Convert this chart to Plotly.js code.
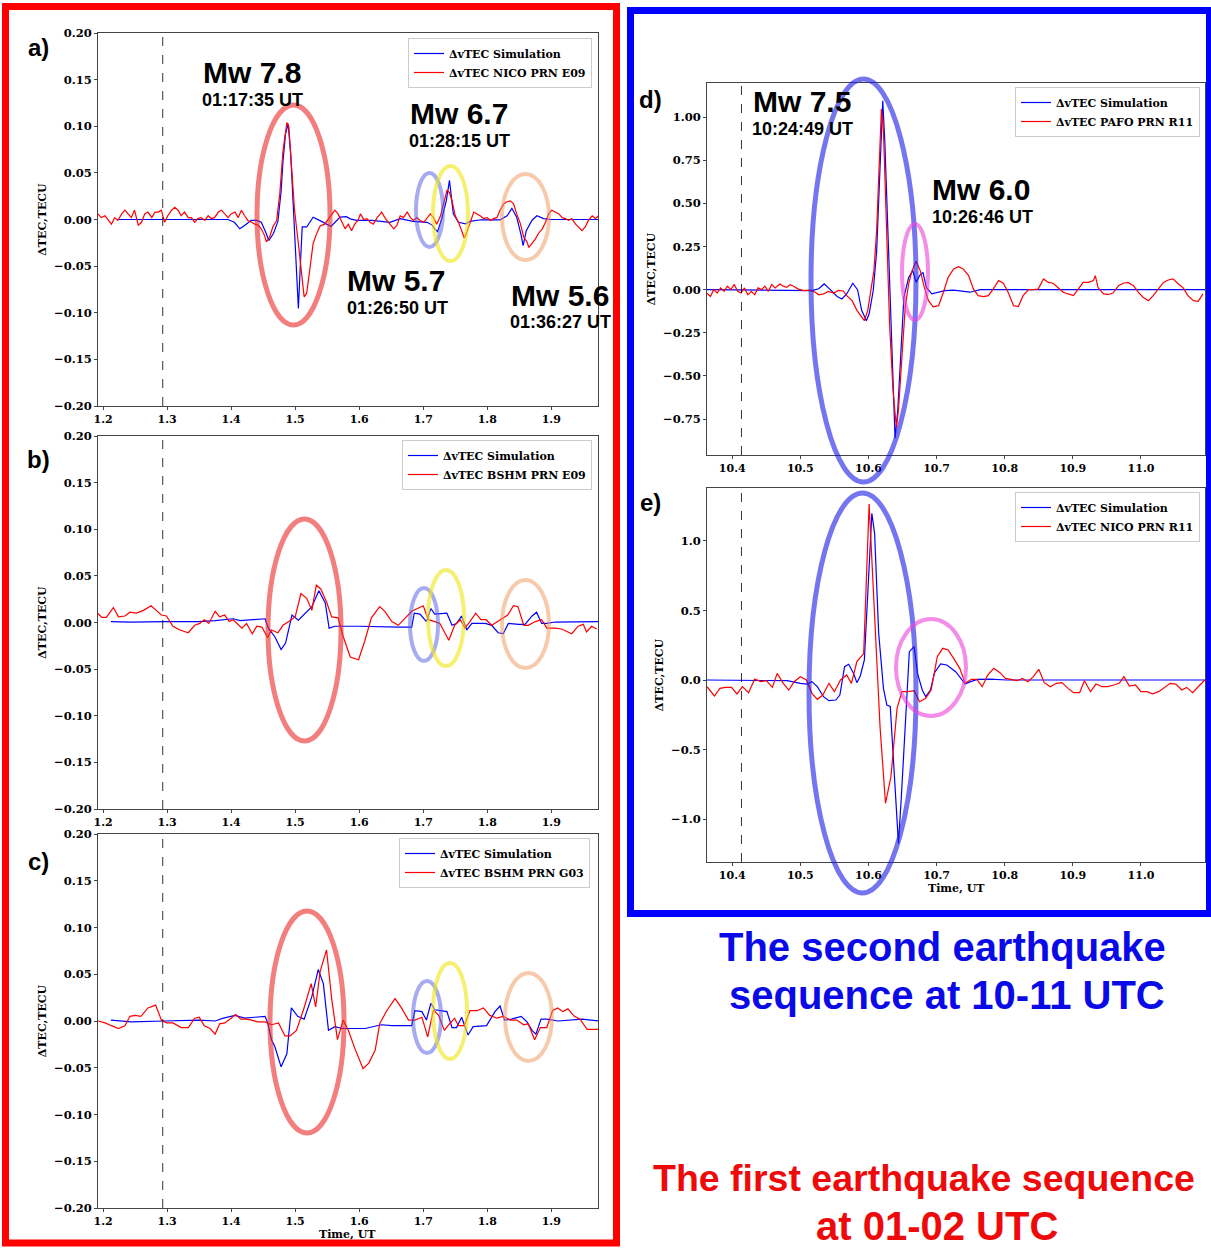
<!DOCTYPE html>
<html>
<head>
<meta charset="utf-8">
<script src="https://cdn.plot.ly/plotly-3.0.1.min.js"></script>
<style>html,body{margin:0;padding:0;overflow:hidden;background:#fff}#chart{width:1211px;height:1249px}</style>
</head>
<body>
<div id="chart"></div>
<script>
// ---------------- DATA ----------------
const eventTimeA = 1.2931;   // 01:17:35 UT
const eventTimeD = 10.4136;  // 10:24:49 UT

// Panel a) NICO PRN E09
const aSimT = [1.221,1.300,1.395,1.405,1.4135,1.422,1.431,1.440,1.447,1.453,1.459,1.466,1.473,1.478,1.481,1.485,1.487,1.489,1.493,1.497,1.501,1.505,1.508,1.511,1.518,1.528,1.541,1.556,1.570,1.580,1.586,1.596,1.620,1.648,1.664,1.684,1.706,1.714,1.718,1.7224,1.729,1.736,1.741,1.747,1.755,1.766,1.773,1.790,1.820,1.831,1.8385,1.846,1.853,1.856,1.861,1.870,1.8776,1.888,1.900,1.973];
const aSimV = [0,0,0,-0.003,-0.010,-0.006,-0.001,-0.001,-0.003,-0.012,-0.0225,-0.015,-0.002,0.03,0.063,0.092,0.097,0.1027,0.07,0.0097,-0.05,-0.0955,-0.05,-0.008,-0.008,0.0025,-0.002,-0.0075,0.0025,0.003,0.0007,-0.001,-0.001,-0.003,0.001,-0.002,-0.003,-0.006,-0.010,-0.013,0.001,0.020,0.042,0.006,-0.003,-0.0046,-0.002,-0.0003,-0.0003,0.004,0.012,0.0025,-0.017,-0.028,-0.012,-0.0008,0.004,0.001,0,0];
const aObsT = [1.192,1.197,1.203,1.208,1.213,1.218,1.223,1.229,1.234,1.239,1.244,1.249,1.255,1.260,1.265,1.270,1.276,1.281,1.286,1.291,1.296,1.301,1.307,1.312,1.317,1.322,1.327,1.333,1.338,1.343,1.348,1.353,1.359,1.364,1.369,1.374,1.380,1.385,1.390,1.395,1.400,1.406,1.411,1.416,1.421,1.426,1.432,1.437,1.442,1.447,1.452,1.455,1.460,1.465,1.471,1.476,1.481,1.487,1.490,1.494,1.499,1.505,1.510,1.514,1.518,1.523,1.528,1.533,1.539,1.546,1.554,1.562,1.567,1.572,1.578,1.583,1.588,1.593,1.598,1.602,1.607,1.612,1.617,1.622,1.628,1.633,1.635,1.641,1.648,1.654,1.659,1.664,1.669,1.675,1.680,1.685,1.690,1.695,1.701,1.706,1.711,1.716,1.721,1.727,1.732,1.737,1.741,1.745,1.750,1.755,1.760,1.764,1.768,1.774,1.779,1.784,1.789,1.794,1.800,1.805,1.810,1.815,1.820,1.826,1.831,1.836,1.841,1.846,1.852,1.857,1.862,1.865,1.870,1.875,1.880,1.886,1.891,1.896,1.901,1.906,1.912,1.917,1.922,1.927,1.932,1.938,1.943,1.948,1.953,1.958,1.964,1.969,1.974];
const aObsV = [0.006,0.002,0.004,-0.001,-0.005,0.002,-0.001,0.006,0.010,0.006,0.002,0.010,-0.006,-0.003,0.006,0.008,0.002,0.008,0.008,0.010,-0.003,0.004,0.010,0.013,0.010,0.004,0.008,0.002,0.002,-0.003,0.001,0.002,-0.001,0.004,0.001,0.002,0.008,0.010,0.006,0.002,0.006,0.008,0.002,0.010,0.004,-0.001,-0.003,-0.005,-0.006,-0.010,-0.017,-0.024,-0.019,-0.008,-0.001,0.028,0.074,0.104,0.100,0.063,0.010,-0.026,-0.062,-0.083,-0.079,-0.051,-0.026,-0.016,-0.007,-0.005,0.002,0.010,0.006,-0.001,-0.010,-0.005,-0.012,-0.005,-0.001,0.006,0.000,0.001,-0.003,-0.005,0.002,0.006,0.008,0.001,-0.005,-0.010,-0.006,0.004,0.002,0.008,0.002,-0.001,0.002,-0.001,-0.003,0.001,0.006,0.002,-0.005,0.004,0.017,0.031,0.029,0.020,0.004,-0.003,-0.012,-0.020,-0.014,-0.003,0.008,0.006,0.004,0.001,0.002,-0.001,0.001,0.002,0.010,0.017,0.019,0.020,0.017,0.006,-0.005,-0.019,-0.024,-0.030,-0.026,-0.021,-0.015,-0.010,-0.003,0.006,0.010,0.008,0.006,0.002,0.001,-0.001,0.001,-0.005,-0.008,-0.012,-0.008,-0.001,0.004,0.001,0.004];

// Panel b) BSHM PRN E09
const bSimT = [1.212,1.244,1.296,1.349,1.375,1.390,1.403,1.414,1.437,1.453,1.458,1.468,1.478,1.485,1.495,1.505,1.526,1.537,1.547,1.553,1.562,1.600,1.661,1.682,1.686,1.695,1.705,1.712,1.718,1.729,1.737,1.745,1.752,1.760,1.768,1.776,1.797,1.807,1.817,1.825,1.833,1.849,1.859,1.870,1.877,1.885,1.893,1.906,1.974];
const bSimV = [0.001,0.0005,0.001,0.001,0.002,0.003,0.004,0.002,0.003,0.004,-0.006,-0.015,-0.029,-0.022,0.008,0.0025,0.017,0.034,0.021,-0.006,-0.004,-0.004,-0.005,-0.005,0.010,0.009,0.001,0.015,0.009,0.010,0.010,-0.003,-0.001,0.007,-0.008,-0.001,-0.001,-0.003,-0.011,-0.012,-0.001,-0.002,-0.002,0.007,0.011,-0.001,-0.001,0.0005,0.001];
const bObsT = [1.192,1.198,1.205,1.216,1.224,1.234,1.242,1.252,1.263,1.275,1.283,1.291,1.299,1.309,1.320,1.333,1.343,1.351,1.358,1.365,1.375,1.382,1.390,1.397,1.403,1.410,1.417,1.424,1.433,1.440,1.448,1.457,1.463,1.473,1.481,1.490,1.500,1.509,1.518,1.526,1.533,1.540,1.549,1.557,1.567,1.575,1.586,1.599,1.609,1.619,1.632,1.640,1.651,1.661,1.672,1.682,1.700,1.708,1.718,1.726,1.740,1.749,1.758,1.765,1.773,1.782,1.790,1.798,1.807,1.816,1.827,1.832,1.841,1.848,1.857,1.864,1.875,1.885,1.893,1.906,1.916,1.932,1.942,1.950,1.955,1.963,1.971];
const bObsV = [0.0096,0.0055,0.0055,0.016,0.006,0.007,0.011,0.010,0.013,0.018,0.013,0.008,0.007,-0.004,-0.008,-0.011,-0.003,-0.001,0.003,-0.001,0.012,0.006,0.008,0.001,0.003,-0.001,-0.006,-0.001,-0.012,-0.004,-0.005,-0.016,-0.008,-0.011,-0.003,0.001,0.006,0.031,0.026,0.013,0.040,0.036,0.022,0.006,0.005,-0.015,-0.037,-0.040,-0.019,0.005,0.017,0.012,0.001,-0.003,0.005,0.012,0.018,0.003,0.001,-0.001,-0.019,-0.003,0.003,-0.006,0.001,0.010,0.003,0.003,-0.003,0.001,0.005,0.008,0.018,0.017,-0.003,-0.003,0.001,0.003,-0.006,-0.006,-0.007,-0.012,-0.004,-0.002,-0.010,-0.004,-0.007];

// Panel c) BSHM PRN G03
const cSimT = [1.212,1.244,1.296,1.349,1.375,1.388,1.406,1.421,1.437,1.453,1.457,1.463,1.468,1.478,1.487,1.494,1.504,1.514,1.526,1.536,1.544,1.552,1.562,1.573,1.609,1.635,1.651,1.682,1.687,1.698,1.705,1.712,1.718,1.729,1.737,1.745,1.752,1.760,1.770,1.778,1.799,1.812,1.820,1.827,1.838,1.853,1.862,1.870,1.876,1.884,1.893,1.911,1.948,1.974];
const cSimV = [0.001,-0.001,0.0,0.001,0.0,0.003,0.006,0.003,0.004,0.005,-0.002,-0.020,-0.027,-0.049,-0.035,0.014,0.005,0.002,0.026,0.055,0.040,-0.010,-0.006,-0.008,-0.008,-0.004,-0.005,-0.005,0.011,0.010,0.001,0.019,0.012,0.011,0.010,-0.007,-0.007,0.004,-0.015,-0.006,-0.005,0.010,0.016,0.001,0.002,0.005,-0.001,-0.010,-0.014,0.002,0.002,0.0,0.002,0.0];
const cObsT = [1.192,1.203,1.213,1.224,1.234,1.242,1.250,1.259,1.270,1.282,1.291,1.299,1.309,1.322,1.333,1.343,1.350,1.358,1.367,1.375,1.382,1.390,1.400,1.407,1.415,1.424,1.432,1.441,1.453,1.463,1.474,1.484,1.492,1.502,1.513,1.525,1.532,1.539,1.549,1.557,1.566,1.575,1.583,1.593,1.606,1.615,1.625,1.632,1.643,1.656,1.666,1.677,1.687,1.698,1.707,1.716,1.724,1.733,1.740,1.749,1.755,1.764,1.773,1.784,1.794,1.804,1.815,1.825,1.836,1.846,1.857,1.864,1.874,1.883,1.893,1.902,1.910,1.918,1.926,1.936,1.945,1.956,1.974];
const cObsV = [0.0,-0.002,-0.005,-0.008,-0.005,0.005,0.006,0.005,0.014,0.017,0.001,-0.002,-0.002,-0.007,-0.007,0.003,0.004,-0.005,-0.008,-0.014,-0.003,-0.002,0.003,0.007,0.002,0.002,0.001,-0.001,-0.001,-0.004,-0.002,-0.016,-0.016,-0.010,0.012,0.040,0.015,0.053,0.076,0.024,-0.020,0.001,-0.010,-0.029,-0.051,-0.045,-0.031,-0.003,0.011,0.024,0.014,0.001,0.001,0.004,-0.017,0.012,0.006,-0.010,-0.004,0.003,-0.005,-0.005,0.011,0.011,0.014,0.006,0.003,0.005,0.001,0.001,-0.004,-0.003,-0.020,-0.007,-0.007,0.011,0.014,0.010,0.013,0.005,0.002,-0.009,-0.009];

// Panel d) PAFO PRN R11
const dSimT = [10.363,10.470,10.500,10.517,10.527,10.535,10.544,10.554,10.561,10.568,10.577,10.584,10.590,10.597,10.601,10.607,10.612,10.617,10.621,10.624,10.629,10.634,10.639,10.643,10.648,10.652,10.659,10.665,10.670,10.675,10.680,10.685,10.693,10.703,10.712,10.725,10.749,10.764,11.094];
const dSimV = [0,-0.003,-0.003,-0.006,0.005,0.033,0.0,-0.04,-0.054,-0.025,0.037,0.0,-0.12,-0.18,-0.14,-0.006,0.22,0.67,1.094,0.86,0.28,-0.35,-0.86,-0.70,-0.30,-0.044,0.07,0.11,0.042,0.081,0.10,0.013,-0.025,-0.017,-0.006,-0.003,-0.015,0.0,0.0];
const dObsT = [10.363,10.368,10.373,10.378,10.383,10.388,10.393,10.398,10.403,10.408,10.413,10.418,10.423,10.428,10.433,10.438,10.443,10.448,10.453,10.458,10.463,10.470,10.475,10.480,10.485,10.490,10.497,10.505,10.514,10.522,10.527,10.534,10.541,10.549,10.556,10.563,10.568,10.576,10.583,10.590,10.594,10.599,10.604,10.608,10.612,10.616,10.619,10.622,10.626,10.631,10.636,10.641,10.644,10.649,10.654,10.659,10.664,10.670,10.676,10.682,10.688,10.695,10.703,10.710,10.717,10.725,10.732,10.739,10.747,10.754,10.761,10.769,10.776,10.783,10.791,10.798,10.805,10.813,10.820,10.827,10.835,10.842,10.849,10.857,10.864,10.871,10.879,10.886,10.893,10.901,10.908,10.915,10.923,10.930,10.933,10.937,10.945,10.952,10.959,10.967,10.974,10.981,10.989,10.996,11.003,11.011,11.018,11.025,11.033,11.040,11.047,11.055,11.062,11.069,11.077,11.084,11.091];
const dObsV = [-0.02,-0.04,0.0,-0.02,0.01,-0.01,0.02,0.0,0.03,-0.01,-0.02,0.01,-0.03,-0.01,-0.03,0.01,0.0,0.02,-0.01,0.03,0.01,0.033,0.02,0.013,0.028,0.02,0.003,-0.006,-0.003,-0.015,-0.03,-0.025,-0.01,-0.02,-0.005,-0.008,-0.035,-0.064,-0.12,-0.16,-0.18,-0.12,-0.006,0.11,0.34,0.77,1.046,0.92,0.38,-0.2,-0.58,-0.80,-0.70,-0.39,-0.10,0.033,0.11,0.164,0.11,0.013,-0.064,-0.10,-0.093,-0.015,0.071,0.12,0.133,0.12,0.081,0.004,-0.035,-0.04,-0.035,0.003,0.052,0.037,-0.015,-0.093,-0.098,-0.035,0.0,0.0,0.003,0.062,0.042,0.037,0.01,-0.015,-0.025,-0.035,0.003,0.042,0.042,0.052,0.081,0.012,-0.025,-0.028,-0.02,0.023,0.037,0.042,0.023,-0.015,-0.044,-0.064,-0.035,0.003,0.042,0.056,0.062,0.033,0.01,-0.035,-0.064,-0.068,-0.025];

// Panel e) NICO PRN R11
const eSimT = [10.363,10.412,10.461,10.481,10.500,10.510,10.517,10.525,10.534,10.542,10.552,10.558,10.565,10.571,10.578,10.583,10.588,10.594,10.601,10.605,10.609,10.615,10.622,10.627,10.632,10.636,10.640,10.644,10.648,10.653,10.657,10.660,10.667,10.672,10.679,10.684,10.691,10.697,10.706,10.715,10.728,10.737,10.742,10.750,10.760,10.779,10.803,11.094];
const eSimV = [0,0,0,-0.005,-0.024,-0.029,-0.012,-0.048,-0.12,-0.149,-0.144,-0.108,0.096,0.113,0.048,-0.019,0.029,0.144,0.815,1.199,1.055,0.336,-0.06,-0.18,-0.19,-0.53,-0.863,-1.175,-0.863,-0.432,-0.144,0.204,0.24,0.048,-0.072,-0.12,-0.072,0.053,0.115,0.108,0.06,0.0,-0.029,-0.012,0.005,0.007,0.0,0.0];
const eObsT = [10.363,10.374,10.382,10.390,10.399,10.407,10.415,10.424,10.433,10.442,10.450,10.459,10.466,10.475,10.483,10.491,10.500,10.509,10.517,10.525,10.533,10.542,10.550,10.559,10.568,10.575,10.583,10.591,10.593,10.601,10.608,10.617,10.625,10.633,10.642,10.649,10.658,10.667,10.675,10.684,10.692,10.701,10.709,10.717,10.725,10.734,10.742,10.751,10.759,10.767,10.775,10.784,10.793,10.801,10.809,10.818,10.826,10.834,10.842,10.850,10.858,10.867,10.876,10.884,10.893,10.901,10.910,10.917,10.926,10.934,10.943,10.951,10.960,10.968,10.975,10.983,10.992,11.000,11.009,11.017,11.026,11.034,11.043,11.051,11.060,11.067,11.076,11.085,11.094];
const eObsV = [-0.048,-0.115,-0.06,-0.053,-0.053,-0.10,-0.048,-0.091,0.007,-0.012,-0.005,-0.053,0.048,-0.024,-0.072,-0.012,0.024,0.0,-0.096,-0.139,-0.108,-0.024,-0.084,0.0,0.036,-0.024,0.132,0.18,0.19,1.266,0.576,-0.336,-0.887,-0.695,-0.204,-0.084,-0.084,-0.077,-0.156,-0.132,-0.072,0.168,0.228,0.216,0.156,0.084,-0.024,0.005,0.005,-0.048,0.036,0.084,0.053,0.012,0.005,-0.005,0.012,-0.012,0.024,0.077,-0.019,-0.048,-0.024,-0.019,-0.06,-0.091,-0.091,-0.005,-0.084,-0.029,-0.048,-0.048,-0.036,-0.024,0.024,-0.043,-0.036,-0.084,-0.084,-0.10,-0.084,-0.053,-0.024,-0.029,-0.072,-0.053,-0.091,-0.043,0.0];

const simName = "ΔvTEC Simulation";
const obsNames = ["ΔvTEC NICO PRN E09","ΔvTEC BSHM PRN E09","ΔvTEC BSHM PRN G03","ΔvTEC PAFO PRN R11","ΔvTEC NICO PRN R11"];
const xTicks1 = [1.2,1.3,1.4,1.5,1.6,1.7,1.8,1.9];
const yTicks1 = [-0.20,-0.15,-0.10,-0.05,0.00,0.05,0.10,0.15,0.20];
const xTicks2 = [10.4,10.5,10.6,10.7,10.8,10.9,11.0];
const yTicksD = [-0.75,-0.50,-0.25,0.00,0.25,0.50,0.75,1.00];
const yTicksE = [-1.0,-0.5,0.0,0.5,1.0];

// ---------------- LAYOUT HELPERS ----------------
const W = 1211, H = 1249;
const px = x => x / W;
const py = y => 1 - y / H;
const SERIF = {family: "DejaVu Serif", size: 11.5, color: "#000", weight: "bold"};
const SERIF_T = {family: "DejaVu Serif", size: 11, color: "#000", weight: "bold"};
const SANS = "Liberation Sans, Arial, sans-serif";

const panels = [
  {id:"", simT:aSimT, simV:aSimV, obsT:aObsT, obsV:aObsV, x:[98,598], y:[33,406], xr:[1.192,1.973], yr:[-0.2,0.2], xt:xTicks1, yt:yTicks1, xf:".1f", yf:".2f", ev:eventTimeA, xtitle:0, leg:[592,38]},
  {id:"2", simT:bSimT, simV:bSimV, obsT:bObsT, obsV:bObsV, x:[98,598], y:[436,809], xr:[1.192,1.973], yr:[-0.2,0.2], xt:xTicks1, yt:yTicks1, xf:".1f", yf:".2f", ev:eventTimeA, xtitle:0, leg:[592,440]},
  {id:"3", simT:cSimT, simV:cSimV, obsT:cObsT, obsV:cObsV, x:[98,598], y:[834,1208], xr:[1.192,1.973], yr:[-0.2,0.2], xt:xTicks1, yt:yTicks1, xf:".1f", yf:".2f", ev:eventTimeA, xtitle:1234, leg:[590,838]},
  {id:"4", simT:dSimT, simV:dSimV, obsT:dObsT, obsV:dObsV, x:[707,1205], y:[83,455], xr:[10.363,11.094], yr:[-0.958,1.197], xt:xTicks2, yt:yTicksD, xf:".1f", yf:".2f", ev:eventTimeD, xtitle:0, leg:[1200,87]},
  {id:"5", simT:eSimT, simV:eSimV, obsT:eObsT, obsV:eObsV, x:[707,1205], y:[488,862], xr:[10.363,11.094], yr:[-1.309,1.381], xt:xTicks2, yt:yTicksE, xf:".1f", yf:".1f", ev:eventTimeD, xtitle:888, leg:[1200,492]}
];

const data = [];
const layout = {
  width: W, height: H,
  margin: {l:0, r:0, t:0, b:0},
  paper_bgcolor: "#fff", plot_bgcolor: "#fff",
  showlegend: true,
  shapes: [], annotations: []
};

panels.forEach((p, i) => {
  const xa = "xaxis" + p.id, ya = "yaxis" + p.id;
  const xr = "x" + p.id, yr = "y" + p.id;
  const legName = i === 0 ? "legend" : "legend" + (i + 1);
  data.push({x: p.simT, y: p.simV, xaxis: xr, yaxis: yr, type: "scatter", mode: "lines",
    name: simName, legend: legName, line: {color: "#0000ff", width: 1.2}});
  data.push({x: p.obsT, y: p.obsV, xaxis: xr, yaxis: yr, type: "scatter", mode: "lines",
    name: obsNames[i], legend: legName, line: {color: "#ff0000", width: 1.2}});
  const axBase = {showgrid:false, zeroline:false, showline:true, mirror:true, linecolor:"#444", linewidth:1,
    ticks:"outside", ticklen:3, tickcolor:"#444", tickfont: SERIF, fixedrange:true};
  layout[xa] = Object.assign({}, axBase, {
    domain: [px(p.x[0]), px(p.x[1])], range: p.xr, anchor: yr,
    tickmode: "array", tickvals: p.xt, tickformat: p.xf, title: {text: ""},
    tickfont: SERIF_T
  });
  layout[ya] = Object.assign({}, axBase, {
    domain: [py(p.y[1]), py(p.y[0])], range: p.yr, anchor: xr,
    tickmode: "array", tickvals: p.yt, tickformat: p.yf,
    title: {text: "ΔTEC,TECU", font: SERIF_T, standoff: 5}
  });
  if (p.xtitle) {
    layout.annotations.push({text: "Time, UT", xref: "paper", yref: "paper",
      x: px((p.x[0] + p.x[1]) / 2), y: py(p.xtitle), xanchor: "center", yanchor: "middle",
      showarrow: false, font: SERIF_T});
  }
  layout[legName] = {
    x: px(p.leg[0]), y: py(p.leg[1]), xanchor: "right", yanchor: "top",
    bgcolor: "rgba(255,255,255,0.85)", bordercolor: "#cccccc", borderwidth: 1,
    font: SERIF_T, tracegroupgap: 0, itemwidth: 30
  };
  layout.shapes.push({type:"line", xref: xr, yref: yr + " domain", x0: p.ev, x1: p.ev, y0: 0, y1: 1,
    line: {color: "#000", width: 0.8, dash: "dash"}, layer: "above"});
});

// frames
layout.shapes.push({type:"rect", xref:"paper", yref:"paper", x0:px(5.5), x1:px(616.5), y0:py(1243), y1:py(6.5),
  line:{color:"#ff0000", width:7}, layer:"above"});
layout.shapes.push({type:"rect", xref:"paper", yref:"paper", x0:px(630.5), x1:px(1209.5), y0:py(913.5), y1:py(10.5),
  line:{color:"#0000ff", width:7}, layer:"above"});

// ellipses (pixel boxes: x0,x1,y0,y1, color, width)
const ellipses = [
  [257,330,105,325,"rgba(235,40,40,0.6)",5],
  [416,443,173,247,"rgba(80,90,225,0.5)",4],
  [433,468,166,261,"rgba(240,230,20,0.6)",4],
  [502,549,174,260,"rgba(240,150,90,0.5)",4],
  [268,341,519,741,"rgba(235,40,40,0.6)",5],
  [410,438,588,661,"rgba(80,90,225,0.5)",4],
  [428,464,570,666,"rgba(240,230,20,0.6)",4],
  [502,549,580,668,"rgba(240,150,90,0.5)",4],
  [270,344,911,1133,"rgba(235,40,40,0.6)",5],
  [413,441,981,1053,"rgba(80,90,225,0.5)",4],
  [433,467,963,1059,"rgba(240,230,20,0.6)",4],
  [505,552,973,1061,"rgba(240,150,90,0.5)",4],
  [811,916,79,482,"rgba(25,25,230,0.6)",5],
  [902,928,224,320,"rgba(235,65,215,0.6)",4],
  [809,916,493,893,"rgba(25,25,230,0.6)",5],
  [896,966,619,716,"rgba(235,65,215,0.6)",4]
];
ellipses.forEach(e => layout.shapes.push({type:"circle", xref:"paper", yref:"paper",
  x0:px(e[0]), x1:px(e[1]), y0:py(e[3]), y1:py(e[2]), line:{color:e[4], width:e[5]}, layer:"above"}));

// text annotations: [text, x, y, size, color]
const texts = [
  ["a)",38,47,24,"#000"],["b)",38,460,24,"#000"],["c)",38,861,24,"#000"],["d)",650,99,24,"#000"],["e)",650,502,24,"#000"],
  ["Mw 7.8",252,72,30,"#000"],["01:17:35 UT",252,100,18,"#000"],
  ["Mw 6.7",459,113,30,"#000"],["01:28:15 UT",459,141,18,"#000"],
  ["Mw 5.7",396,280,30,"#000"],["01:26:50 UT",397,308,18,"#000"],
  ["Mw 5.6",560,295,30,"#000"],["01:36:27 UT",560,322,18,"#000"],
  ["Mw 7.5",802,101,30,"#000"],["10:24:49 UT",802,129,18,"#000"],
  ["Mw 6.0",981,190,30,"#000"],["10:26:46 UT",982,217,18,"#000"],
  ["The second earthquake",942,947,40,"#0a0ae8"],["sequence at 10-11 UTC",947,995,40,"#0a0ae8"],
  ["The first earthquake sequence",924,1178,37.5,"#ee0a0a"],["at 01-02 UTC",937,1226,40,"#ee0a0a"]
];
texts.forEach(t => layout.annotations.push({text:t[0], xref:"paper", yref:"paper", x:px(t[1]), y:py(t[2]),
  xanchor:"center", yanchor:"middle", showarrow:false,
  font:{family:SANS, size:t[3], color:t[4], weight:"bold"}}));

Plotly.newPlot("chart", data, layout, {staticPlot:true, displayModeBar:false});
</script>
</body>
</html>
